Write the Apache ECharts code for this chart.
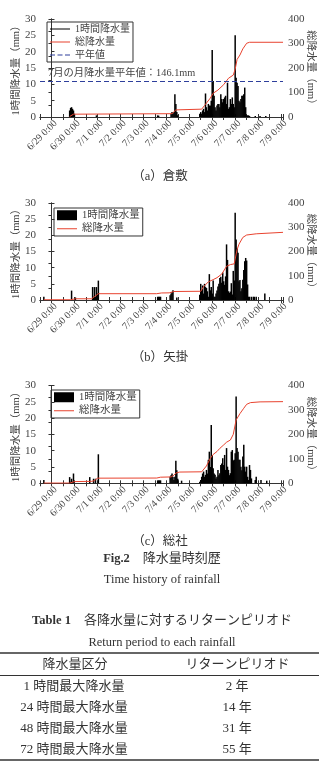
<!DOCTYPE html>
<html>
<head>
<meta charset="utf-8">
<script src="https://cdn.jsdelivr.net/npm/echarts@6.0.0/dist/echarts.min.js"></script>
<style>
  html, body { margin: 0; padding: 0; background: #fff; }
  #chart { width: 319px; height: 764px; }
</style>
</head>
<body>
<div id="chart"></div>
<script>
// 時刻は「月-日 時:分」、x軸は 6/29 0:00 からの経過時間(h)
const X_MIN = -12;
const X_MAX = 242;
const NORMAL_JULY = 146.1; // 7月の月降水量平年値

// 1時間降水量: [開始時刻, 1時間ごとの値...]
const kurashikiHourly = [
    ['06-29 19:00', [2, 2.8, 3, 2.5, 2, 1]],
    ['06-30 23:00', [0.5]],
    ['07-03 15:00', [0.5, 0.4]],
    ['07-04 05:00', [1, 1.5, 1, 1.5, 7, 4, 1.5, 0.5]],
    ['07-05 11:00', [1, 1.5, 1, 2, 2.5, 1.5, 7.2, 3, 2, 4, 3.5, 3.5, 5, 20.5, 11, 6.5, 3, 2, 3.5, 4, 4, 3, 7, 5.5, 4.5, 5.5, 6, 6.5, 4, 10.5, 2.5, 3, 5.5, 4, 6, 4, 3, 25, 12, 10.5, 9.5, 5, 4.5, 5.5, 6.5, 6.5, 7, 9, 3, 0.5, 0.5, 0.5, 0.3]],
    ['07-07 21:00', [0.3]],
    ['07-08 02:00', [0.3]],
    ['07-08 08:00', [0.3]]
];
const yakageHourly = [
    ['06-28 16:00', [1]],
    ['06-29 21:00', [2.9, 0, 0, 0, 0.8]],
    ['06-30 19:00', [4, 1, 4, 1, 4, 2, 6]],
    ['07-03 15:00', [1, 1, 1, 1]],
    ['07-04 04:00', [1.5, 2, 2.5, 3, 0, 0, 0, 0.8]],
    ['07-05 11:00', [1.6, 5, 3, 4.5, 2, 5, 4, 3.7, 2.7, 1, 8, 3, 4, 2, 6, 1, 1, 2, 2.9, 4.2, 5, 6.8, 7.2, 5.3, 8.5, 5.8, 4.7, 7.3, 17.2, 12.4, 2.7, 2.2, 2.6, 5.2, 1.7, 9, 6, 27, 18.7, 16, 14.6, 5.8, 6.2, 2.7, 3.6, 6.3, 9.3, 12, 13, 12.2, 4.8, 1, 1, 0, 1, 0, 1, 1, 0, 1]],
    ['07-08 07:00', [2]]
];
const sojaHourly = [
    ['06-28 16:00', [1]],
    ['06-29 19:00', [1.9, 0.5, 1.4, 0.5, 3]],
    ['06-30 16:00', [1.9, 0, 0, 0, 1.4, 0, 1.4, 0, 0, 8.9]],
    ['07-03 15:00', [0.9, 0.9, 0.9, 0.9]],
    ['07-04 04:00', [2, 2.5, 3, 2, 1, 2, 6.9, 4, 1.4, 0, 0, 0, 0.8]],
    ['07-05 11:00', [0.5, 1, 2, 3, 3.6, 2, 2.6, 4.1, 3, 7.2, 9.7, 5, 17.9, 8.7, 4.6, 3, 2.6, 1.5, 2, 4.1, 2.5, 3.1, 5.6, 6.1, 7.7, 5.6, 8.7, 4.1, 10.8, 5.1, 4.1, 2.5, 3.1, 9.7, 10.2, 7, 7.2, 9.2, 26.6, 10.8, 9.7, 7.2, 7.2, 5.1, 4, 8.2, 11.8, 5.1, 3.6, 5.1, 2, 1, 5.6, 4.1, 1.5]],
    ['07-07 21:00', [1, 2]],
    ['07-08 03:00', [1]],
    ['07-08 09:00', [0.8]]
];

// 総降水量(累積)
const kurashikiTotal = [
    ['06-29 19:00', 2], ['06-29 21:00', 8], ['06-29 23:00', 11.5], ['06-30 01:00', 12.5],
    ['07-04 06:00', 13.5], ['07-04 08:00', 18], ['07-04 10:00', 29], ['07-04 12:00', 31],
    ['07-05 13:00', 32], ['07-05 16:00', 47], ['07-05 22:00', 77], ['07-06 01:00', 97],
    ['07-06 06:00', 110], ['07-06 12:00', 132], ['07-06 17:00', 158], ['07-06 19:00', 166],
    ['07-06 22:00', 171], ['07-07 00:00', 195], ['07-07 02:00', 235], ['07-07 05:00', 253],
    ['07-07 08:00', 278], ['07-07 12:00', 301], ['07-07 15:00', 305], ['07-09 02:00', 305]
];
const yakageTotal = [
    ['06-28 16:00', 1], ['06-29 20:00', 1], ['06-29 22:00', 4], ['06-30 01:00', 5],
    ['06-30 18:00', 5], ['06-30 21:00', 14], ['07-01 01:00', 26], ['07-03 14:00', 26],
    ['07-03 19:00', 29], ['07-04 03:00', 29.5], ['07-04 08:00', 35], ['07-05 12:00', 36],
    ['07-05 15:00', 55], ['07-05 20:00', 75], ['07-06 01:00', 84], ['07-06 05:00', 92],
    ['07-06 10:00', 107], ['07-06 15:00', 139], ['07-06 19:00', 146], ['07-06 23:00', 149],
    ['07-07 02:00', 208], ['07-07 04:00', 230], ['07-07 08:00', 258], ['07-07 12:00', 268],
    ['07-07 22:00', 273], ['07-09 02:00', 279]
];
const sojaTotal = [
    ['06-28 16:00', 1], ['06-29 19:00', 1], ['06-29 21:00', 4], ['06-30 00:00', 7],
    ['06-30 18:00', 8], ['06-30 21:00', 11], ['07-01 00:00', 21], ['07-03 14:00', 21.5],
    ['07-03 18:00', 25], ['07-04 05:00', 26], ['07-04 08:00', 33], ['07-04 10:00', 42],
    ['07-04 14:00', 46], ['07-05 13:00', 47], ['07-05 15:00', 55], ['07-05 18:00', 71],
    ['07-05 22:00', 102], ['07-06 01:00', 118], ['07-06 05:00', 130], ['07-06 08:00', 143],
    ['07-06 12:00', 157], ['07-06 15:00', 168], ['07-06 19:00', 177], ['07-06 22:00', 200],
    ['07-07 01:00', 259], ['07-07 05:00', 285], ['07-07 09:00', 307], ['07-07 12:00', 323],
    ['07-07 16:00', 330], ['07-08 02:00', 333], ['07-09 02:00', 334]
];

const stationNames = ['（a）倉敷', '（b）矢掛', '（c）総社'];

// Table 1
const durations = [1, 24, 48, 72];   // 時間
const returnYears = [2, 14, 31, 55]; // 年

// ---- helpers ----
const T0 = Date.UTC(2018, 5, 29);
const hoursOf = s => {
    const [md, hm] = s.split(' ');
    const [m, d] = md.split('-').map(Number);
    const [H, M] = hm.split(':').map(Number);
    return (Date.UTC(2018, m - 1, d, H, M) - T0) / 3600000;
};
const barData = runs => {
    const out = [];
    runs.forEach(([start, vals]) => {
        const h0 = hoursOf(start);
        vals.forEach((v, i) => { if (v > 0) out.push([h0 + i, v]); });
    });
    return out;
};
const lineData = pts => pts.map(([s, v]) => [hoursOf(s), v]);
const dayLabel = v => {
    if (v % 24 !== 0) return '';
    const d = new Date(T0 + v * 3600000);
    return (d.getUTCMonth() + 1) + '/' + d.getUTCDate() + ' 0:00';
};

const SERIF = "'Liberation Serif', 'Noto Sans CJK JP', serif";
const TXT = '#444';
const AX = '#333';
const RED = '#e8432f';
const BLUE = '#2e3f9c';
// 凡例アイコン(20x10 の枠に線を描く)
const LINE_ICON = 'path://M0,0h0.01v0.01h-0.01z M0,9.99h0.01v0.01h-0.01z M0,4.5h20v1h-20z';
const DASH_ICON = 'path://M0,0h0.01v0.01h-0.01z M0,9.99h0.01v0.01h-0.01z M0,4.5h5v1h-5z M7.5,4.5h5v1h-5z M15,4.5h5v1h-5z';

const grids = [
    { left: 40, top: 19, width: 243, height: 98, outerBoundsMode: 'none' },
    { left: 40, top: 203, width: 243, height: 97, outerBoundsMode: 'none' },
    { left: 40, top: 385.5, width: 243, height: 97.8, outerBoundsMode: 'none' }
];

const xAxes = [];
const yAxes = [];
grids.forEach((g, i) => {
    // 下軸
    xAxes.push({
        type: 'value', gridIndex: i, min: X_MIN, max: X_MAX, interval: 12,
        axisLine: { lineStyle: { color: AX } },
        axisTick: { inside: true, length: 3, lineStyle: { color: AX } },
        axisLabel: {
            rotate: 45, margin: 9, padding: [0, -6, 0, 0],
            fontSize: 10, fontFamily: SERIF, color: TXT, formatter: dayLabel
        },
        splitLine: { show: false }
    });
    yAxes.push({
        type: 'value', gridIndex: i, position: 'left', min: 0, max: 30, interval: 5,
        axisLine: { show: true, lineStyle: { color: AX } },
        axisTick: { show: true, inside: true, length: 3, lineStyle: { color: AX } },
        axisLabel: { fontSize: 11, margin: 4, color: TXT, fontFamily: SERIF },
        splitLine: { show: false }
    });
    yAxes.push({
        type: 'value', gridIndex: i, position: 'right', min: 0, max: 400, interval: 100,
        axisLine: { show: true, lineStyle: { color: AX } },
        axisTick: { show: true, inside: true, length: 3, lineStyle: { color: AX } },
        minorTick: { show: true, splitNumber: 2, length: 3, lineStyle: { color: AX } },
        axisLabel: { fontSize: 11, margin: 5, color: TXT, fontFamily: SERIF },
        splitLine: { show: false }
    });
});
// 上枠の目盛
grids.forEach((g, i) => {
    xAxes.push({
        type: 'value', gridIndex: i, position: 'top', min: X_MIN, max: X_MAX, interval: 12,
        axisLine: { lineStyle: { color: AX } },
        axisTick: { inside: true, length: 3, lineStyle: { color: AX } },
        axisLabel: { show: false },
        splitLine: { show: false }
    });
});

const hourly = [kurashikiHourly, yakageHourly, sojaHourly];
const totals = [kurashikiTotal, yakageTotal, sojaTotal];
const series = [];
hourly.forEach((runs, i) => {
    series.push({
        type: 'bar', name: '1時間降水量', xAxisIndex: i, yAxisIndex: i * 2,
        data: barData(runs), barWidth: 1.5,
        itemStyle: { color: '#000' }
    });
    series.push({
        type: 'line', name: '総降水量', xAxisIndex: i, yAxisIndex: i * 2 + 1,
        data: lineData(totals[i]), symbol: 'none', showSymbol: false, z: 3,
        lineStyle: { color: RED, width: 1 }, itemStyle: { color: RED }
    });
});
// 平年値 (倉敷のみ)
series.push({
    type: 'line', name: '平年値', xAxisIndex: 0, yAxisIndex: 1, data: [],
    symbol: 'none', lineStyle: { color: BLUE, width: 1, type: [5, 3] }, itemStyle: { color: BLUE },
    markLine: {
        silent: true, symbol: 'none', animation: false,
        lineStyle: { color: BLUE, width: 1, type: [5, 3] },
        label: {
            position: 'insideStartTop', distance: 3, padding: [0, 0, 0, 5],
            formatter: '7月の月降水量平年値：' + NORMAL_JULY + 'mm',
            fontSize: 10.3, color: TXT, fontFamily: SERIF
        },
        data: [{ yAxis: NORMAL_JULY }]
    }
});

const legendBase = {
    orient: 'vertical', selectedMode: false,
    borderColor: AX, borderWidth: 1, borderRadius: 0,
    padding: [2, 3, 2, 3], itemGap: 3, itemWidth: 20, itemHeight: 10,
    textStyle: { fontSize: 10.5, color: TXT, fontFamily: SERIF }
};
const legends = [
    Object.assign({}, legendBase, {
        left: 47, top: 22, textStyle: { fontSize: 10, color: TXT, fontFamily: SERIF },
        data: [
            { name: '1時間降水量', icon: LINE_ICON },
            { name: '総降水量', icon: LINE_ICON },
            { name: '平年値', icon: DASH_ICON }
        ]
    }),
    Object.assign({}, legendBase, {
        left: 54, top: 208,
        data: [{ name: '1時間降水量', icon: 'rect' }, { name: '総降水量', icon: LINE_ICON }]
    }),
    Object.assign({}, legendBase, {
        left: 51, top: 390,
        data: [{ name: '1時間降水量', icon: 'rect' }, { name: '総降水量', icon: LINE_ICON }]
    })
];

// 軸名・図表のキャプションと表
const graphic = [];
const addText = (text, x, y, size, extra, rotation) => {
    graphic.push({
        type: 'text', x: x, y: y, rotation: rotation || 0, silent: true,
        style: Object.assign({
            text: text, fill: '#333', fontSize: size, fontFamily: SERIF,
            align: 'center', verticalAlign: 'middle'
        }, extra || {})
    });
};
const addRule = (y, w) => {
    graphic.push({
        type: 'line', silent: true,
        shape: { x1: 0, y1: y, x2: 319, y2: y },
        style: { stroke: '#333', lineWidth: w }
    });
};
grids.forEach(g => {
    const cy = g.top + g.height / 2;
    addText('1時間降水量（mm）', 16, cy, 10.5, { fill: TXT }, Math.PI / 2);
    addText('総降水量（mm）', 311, cy + 2, 10.5, { fill: TXT }, -Math.PI / 2);
});
const capY = [177, 358, 541.5];
stationNames.forEach((s, i) => addText(s, 160, capY[i], 12.5));
addText('{b|Fig.2}　降水量時刻歴', 162, 559, 13, {
    rich: { b: { fontWeight: 'bold', fontSize: 12.5, fontFamily: SERIF } }
});
addText('Time history of rainfall', 162, 580, 12.5);
addText('{b|Table 1}　各降水量に対するリターンピリオド', 162, 621, 13, {
    rich: { b: { fontWeight: 'bold', fontSize: 12.5, fontFamily: SERIF } }
});
addText('Return period to each rainfall', 162, 643, 12.5);
addRule(653, 1.5);
addText('降水量区分', 75, 665, 13);
addText('リターンピリオド', 237.5, 665, 13);
addRule(675.5, 1);
const rowY = [686.5, 707.5, 729, 750];
durations.forEach((d, i) => {
    addText(d + ' 時間最大降水量', 74, rowY[i], 13);
    addText(returnYears[i] + ' 年', 237, rowY[i], 13);
});
addRule(760, 1.5);

const chart = echarts.init(document.getElementById('chart'), null, { renderer: 'canvas' });
chart.setOption({
    animation: false,
    backgroundColor: '#fff',
    grid: grids,
    xAxis: xAxes,
    yAxis: yAxes,
    legend: legends,
    series: series,
    graphic: graphic
});
</script>
</body>
</html>
